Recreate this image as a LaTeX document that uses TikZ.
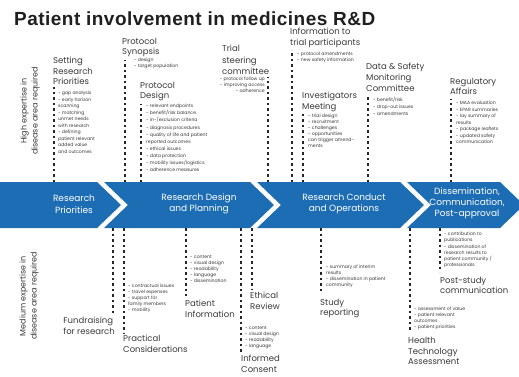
\documentclass[tikz,border=0pt]{standalone}
\usepackage{fontspec}
\setmainfont{Poppins}
\newfontfamily\titlefont[LetterSpace=2.5]{Liberation Sans}
\definecolor{bandblue}{HTML}{1C6DB3}
\definecolor{txtgray}{HTML}{3A3A3A}
\begin{document}
\begin{tikzpicture}[x=1pt,y=-1pt,
 lbl/.style={font=\fontsize{8.5}{10.5}\selectfont, text=txtgray, align=left, inner sep=0pt, anchor=north west},
 bul/.style={font=\fontsize{4.6}{6.5}\selectfont, text=txtgray, align=left, inner sep=0pt, anchor=north west},
 dotl/.style={line width=1.9pt, dash pattern=on 2.5pt off 3pt, black!85},
 band/.style={fill=bandblue},
 bandtxt/.style={font=\fontsize{9}{11.5}\selectfont, text=white, align=center, inner sep=0pt},
 side/.style={font=\fontsize{8}{11}\selectfont, text=txtgray, align=center, rotate=90, inner sep=0pt}]
\useasboundingbox[fill=white] (0,0) rectangle (519,376);

% title
\node[anchor=base west, font=\titlefont\bfseries\fontsize{19}{22}\selectfont, text=black!88, inner sep=0pt] (title) at (14,25) {Patient involvement in medicines R\&D};

% side labels
\node[side] (high) at (30,111) {High expertise in\\disease area required};
\node[side] (medium) at (29,296) {Medium expertise in\\disease area required};

% band
\begin{scope}
\clip (0,0) rectangle (519,376);
\fill[band] (0,182) -- (97,182) -- (121,205) -- (97,228) -- (0,228) -- cycle;
\fill[band] (104,182) -- (250,182) -- (274,205) -- (250,228) -- (104,228) -- (128,205) -- cycle;
\fill[band] (257,182) -- (400,182) -- (424,205) -- (400,228) -- (257,228) -- (281,205) -- cycle;
\fill[band] (407,182) -- (500,182) -- (524,205) -- (500,228) -- (407,228) -- (431,205) -- cycle;
\end{scope}
\node[bandtxt] (c1) at (74,204) {Research\\Priorities};
\node[bandtxt] (c2) at (199,204) {Research Design\\and Planning};
\node[bandtxt] (c3) at (344,204) {Research Conduct\\and Operations};
\node[bandtxt, font=\fontsize{9}{11}\selectfont] (c4) at (467,203) {Dissemination,\\Communication,\\Post-approval};

% ---------- top ----------
% Setting Research Priorities
\node[lbl] (srp) at (53,57) {Setting\\Research\\Priorities};
\node[bul] (srpb) at (58,91) {- gap analysis\\- early horizon\\scanning\\- matching\\unmet needs\\with research\\- defining\\patient relevant\\added value\\and outcomes};
\coordinate (srpa) at (54,182); \coordinate (srpe) at (54,87);
\draw[dotl] (srpa) -- (srpe);

% Protocol Synopsis
\node[lbl] (ps) at (122,38) {Protocol\\Synopsis};
\node[bul, font=\fontsize{4.6}{5.5}\selectfont] (psb) at (134,58) {- design\\- target population};
\coordinate (psa) at (125,182); \coordinate (pse) at (125,60);
\draw[dotl] (psa) -- (pse);

% Protocol Design
\node[lbl] (pd) at (140,82) {Protocol\\Design};
\node[bul, font=\fontsize{4.6}{7.1}\selectfont] (pdb) at (146,104) {- relevant endpoints\\- benefit/risk balance\\- in-/exclusion criteria\\- diagnosis procedures\\- quality of life and patient\\reported outcomes\\- ethical issues\\- data protection\\- mobility issues/logistics\\- adherence measures};
\coordinate (pda) at (141,182); \coordinate (pde) at (141,104);
\draw[dotl] (pda) -- (pde);

% Trial steering committee
\node[lbl, font=\fontsize{8.5}{11.5}\selectfont] (tsc) at (222,45) {Trial\\steering\\committee};
\node[bul, anchor=north east, align=right, font=\fontsize{4.6}{6}\selectfont] (tscb) at (265,77) {- protocol follow up\\- improving access\\- adherence};
\coordinate (tsca) at (268,182); \coordinate (tsce) at (268,77);
\draw[dotl] (tsca) -- (tsce);

% Information to trial participants
\node[lbl] (itp) at (290,28) {Information to\\trial participants};
\node[bul, font=\fontsize{4.6}{5.5}\selectfont] (itpb) at (297,52) {- protocol amendments\\- new safety information};
\coordinate (itpa) at (292,182); \coordinate (itpe) at (292,50);
\draw[dotl] (itpa) -- (itpe);

% Investigators Meeting
\node[lbl, font=\fontsize{8.5}{11}\selectfont] (im) at (302,92) {Investigators\\Meeting};
\node[bul, font=\fontsize{4.6}{6}\selectfont] (imb) at (308,114) {- trial design\\- recruitment\\- challenges\\- opportunities\\can trigger amend-\\ments};
\coordinate (ima) at (303,182); \coordinate (ime) at (303,113);
\draw[dotl] (ima) -- (ime);

% Data & Safety Monitoring Committee
\node[lbl, font=\fontsize{8.5}{11}\selectfont] (dsmc) at (366,63) {Data \& Safety\\Monitoring\\Committee};
\node[bul, font=\fontsize{4.6}{6.8}\selectfont] (dsmcb) at (373,97) {- benefit/risk\\- drop-out issues\\- amendments};
\coordinate (dsmca) at (368,182); \coordinate (dsmce) at (368,96);
\draw[dotl] (dsmca) -- (dsmce);

% Regulatory Affairs
\node[lbl] (ra) at (450,78) {Regulatory\\Affairs};
\node[bul] (rab) at (456,101) {- MAA evaluation\\- EPAR summaries\\- lay summary of\\results\\- package leaflets\\- updated safety\\communication};
\coordinate (raa) at (451,182); \coordinate (rae) at (451,99);
\draw[dotl] (raa) -- (rae);

% ---------- bottom ----------
% Fundraising
\node[lbl, anchor=north east] (fr) at (115,317) {Fundraising\\for research};
\coordinate (fra) at (113,228); \coordinate (fre) at (113,314);
\draw[dotl] (fra) -- (fre);

% Practical Considerations
\node[bul, font=\fontsize{4.6}{6}\selectfont] (pcb) at (128,284) {- contractual issues\\- travel expenses\\- support for\\family members\\- mobility};
\node[lbl] (pc) at (123,335) {Practical\\Considerations};
\coordinate (pca) at (124,228); \coordinate (pce) at (124,334);
\draw[dotl] (pca) -- (pce);

% Patient Information
\node[bul, font=\fontsize{4.6}{6}\selectfont] (pib) at (190,255) {- content\\- visual design\\- readability\\- language\\- dissemination};
\node[lbl] (pi) at (185,300) {Patient\\Information};
\coordinate (pia) at (186,228); \coordinate (pie) at (186,296);
\draw[dotl] (pia) -- (pie);

% Ethical Review
\node[lbl] (er) at (250,292) {Ethical\\Review};
\coordinate (era) at (252,228); \coordinate (ere) at (252,290);
\draw[dotl] (era) -- (ere);

% Informed Consent
\node[bul, font=\fontsize{4.6}{6}\selectfont] (icb) at (245,326) {- content\\- visual design\\- readability\\- language};
\node[lbl] (ic) at (241,355) {Informed\\Consent};
\coordinate (ica) at (241,228); \coordinate (ice) at (241,354);
\draw[dotl] (ica) -- (ice);

% Study reporting
\node[bul, font=\fontsize{4.6}{6}\selectfont] (srb) at (326,265) {- summary of interim\\results\\- dissemination in patient\\community};
\node[lbl] (sr) at (320,299) {Study\\reporting};
\coordinate (sra) at (321,228); \coordinate (sre) at (321,293);
\draw[dotl] (sra) -- (sre);

% Post-study communication
\node[bul, font=\fontsize{4.6}{6.2}\selectfont] (psc) at (444,232) {- contribution to\\publications\\- dissemination of\\research results to\\patient community /\\professionals};
\node[lbl] (pscl) at (440,277) {Post-study\\communication};
\coordinate (psca) at (440,228); \coordinate (psce) at (440,272);
\draw[dotl] (psca) -- (psce);

% Health Technology Assessment
\node[bul, font=\fontsize{4.6}{6}\selectfont] (htab) at (414,307) {- assessment of value\\- patient relevant\\outcomes\\- patient priorities};
\node[lbl] (hta) at (408,337) {Health\\Technology\\Assessment};
\coordinate (htaa) at (410,228); \coordinate (htae) at (410,330);
\draw[dotl] (htaa) -- (htae);
\end{tikzpicture}
\end{document}
